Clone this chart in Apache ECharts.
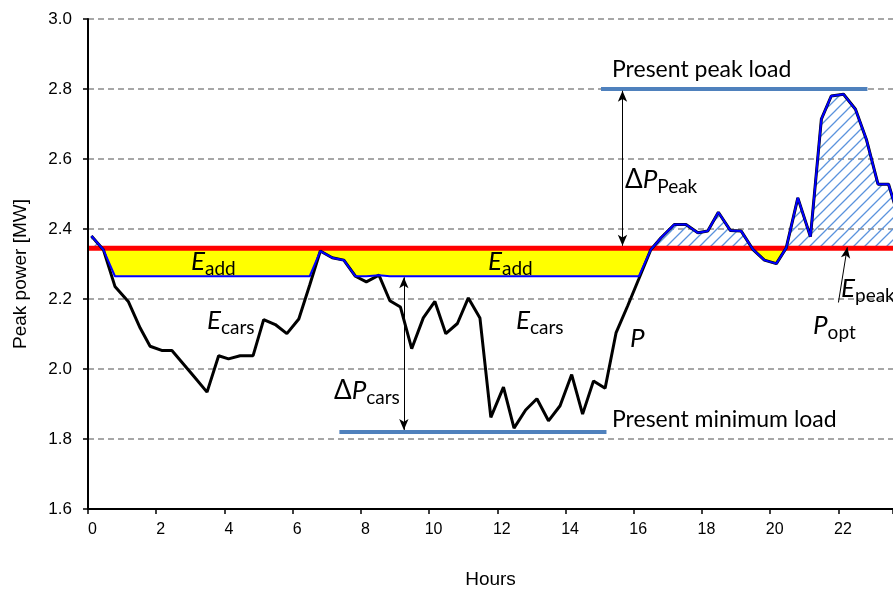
<!DOCTYPE html>
<html><head><meta charset="utf-8">
<script src="https://cdn.jsdelivr.net/npm/echarts@6/dist/echarts.min.js"></script>
<style>html,body{margin:0;padding:0;background:#fff;overflow:hidden}#c{width:893px;height:589px}</style>
</head><body><div id="c"></div>
<script>
// ---- data ----
const hours = [0.10,0.45,0.79,1.18,1.53,1.82,2.16,2.46,2.79,3.12,3.49,3.83,4.12,4.46,4.84,5.15,5.49,5.83,6.18,6.50,
  6.81,7.16,7.50,7.84,8.16,8.53,8.85,9.16,9.49,9.83,10.17,10.49,10.83,11.15,11.49,11.81,12.18,12.49,12.83,13.16,
  13.50,13.84,14.18,14.50,14.82,15.16,15.48,15.82,16.15,16.50,16.80,17.19,17.53,17.88,18.17,18.48,18.83,19.15,19.49,19.83,
  20.18,20.47,20.81,21.18,21.50,21.79,22.15,22.50,22.82,23.16,23.47,23.80];
const power = [2.380,2.341,2.236,2.193,2.117,2.065,2.053,2.053,2.015,1.977,1.934,2.038,2.029,2.038,2.038,2.141,2.127,2.101,2.143,2.240,
  2.337,2.318,2.311,2.265,2.249,2.268,2.195,2.177,2.058,2.146,2.193,2.101,2.130,2.203,2.146,1.862,1.948,1.831,1.883,1.915,
  1.852,1.895,1.984,1.871,1.966,1.945,2.103,2.180,2.258,2.341,2.375,2.413,2.413,2.389,2.394,2.448,2.396,2.394,2.342,2.311,
  2.301,2.346,2.489,2.378,2.714,2.780,2.785,2.742,2.656,2.528,2.528,2.420];
const optimalLevel = 2.345;      // P_opt (red)
const carFloor = 2.265;          // level after adding car charging (blue)
const peakLoadLevel = 2.8;
const peakLoadSpan = [15.04, 22.85];
const minLoadLevel = 1.82;
const minLoadSpan = [7.37, 15.2];
const deltaCarsArrow = [9.26, 2.262, 1.826];
const deltaPeakArrow = [15.67, 2.795, 2.352];
const poptArrow = [[22.0, 2.19], [22.26, 2.348]];
const xTickValues = [0,2,4,6,8,10,12,14,16,18,20,22];
const yTickLabels = ['1.6','1.8','2.0','2.2','2.4','2.6','2.8','3.0'];

// ---- derived tables ----
const pLine = hours.map((h,i)=>[h, power[i]]);
const blueVals = power.map(v => Math.max(v, carFloor));
const blueLine = hours.map((h,i)=>[h, blueVals[i]]);
const optVals = hours.map(() => optimalLevel);
const yellowLower = blueVals.map(v => Math.min(v, optimalLevel));
const hatchUpper = power.map(v => Math.max(v, optimalLevel));
const redLine = [[0.03, optimalLevel],[24, optimalLevel]];

// hatch pattern
const pat = document.createElement('canvas');
pat.width = 11; pat.height = 11;
const g = pat.getContext('2d');
g.strokeStyle = '#5b93dd'; g.lineWidth = 1.3;
g.beginPath();
g.moveTo(0,11); g.lineTo(11,0);
g.moveTo(-1,1); g.lineTo(1,-1);
g.moveTo(10,12); g.lineTo(12,10);
g.stroke();

function band(lower, upper, fill) {
  return function (params, api) {
    const pts = [];
    for (let i = 0; i < hours.length; i++) pts.push(api.coord([hours[i], upper[i]]));
    for (let i = hours.length - 1; i >= 0; i--) pts.push(api.coord([hours[i], lower[i]]));
    return {type: 'polygon', shape: {points: pts}, style: {fill: fill, stroke: null}};
  };
}

const F = 'Lato, "Noto Sans", sans-serif';
const A = '"Liberation Sans", Arial, sans-serif';
const rich = {
  i: {fontFamily: F, fontStyle: 'italic', fontSize: 26, fill: '#000'},
  n: {fontFamily: F, fontSize: 26, fill: '#000'},
  s: {fontFamily: F, fontSize: 19, fill: '#000', padding: [14,0,0,0]}
};
function txt(x, y, text) {
  return {type: 'text', x: x, y: y, z: 100,
    style: {text: text, rich: rich, align: 'left', verticalAlign: 'middle', fill: '#000', fontFamily: F, fontSize: 23}};
}

const chart = echarts.init(document.getElementById('c'), null, {renderer: 'canvas'});
chart.setOption({
  animation: false,
  backgroundColor: '#fff',
  grid: {left: 88, right: 0, top: 19, bottom: 80, containLabel: false, outerBoundsMode: 'none'},
  xAxis: {
    type: 'value', min: 0, max: 23.6, interval: 2,
    name: 'Hours', nameLocation: 'middle', nameGap: 61,
    nameTextStyle: {fontFamily: A, fontSize: 19, color: '#000'},
    axisLine: {lineStyle: {color: '#000', width: 2}},
    axisTick: {show: true, length: 5, lineStyle: {color: '#000', width: 1.5}},
    axisLabel: {fontFamily: A, fontSize: 16, color: '#000', margin: 13, padding: [0,0,0,9],
      formatter: v => xTickValues.indexOf(v) >= 0 ? String(v) : ''},
    splitLine: {show: false}
  },
  yAxis: {
    type: 'value', min: 1.6, max: 3.0, interval: 0.2,
    axisLine: {show: true, lineStyle: {color: '#000', width: 2}},
    axisTick: {show: true, length: 5, lineStyle: {color: '#000', width: 1.5}},
    axisLabel: {fontFamily: A, fontSize: 17, color: '#000', margin: 16,
      formatter: v => yTickLabels[Math.round((v - 1.6) / 0.2)]},
    splitLine: {show: true, lineStyle: {color: '#8a8a8a', width: 1.5, type: [6,4]}}
  },
  series: [
    {type: 'custom', renderItem: band(yellowLower, optVals, '#ffff00'), data: [[hours[0], optimalLevel]], clip: true, z: 1, silent: true},
    {type: 'custom', renderItem: band(optVals, hatchUpper, {image: pat, repeat: 'repeat'}), data: [[hours[0], optimalLevel]], clip: true, z: 1, silent: true},
    {type: 'line', data: redLine, symbol: 'none', lineStyle: {color: '#ff0000', width: 5}, z: 2},
    {type: 'line', data: [[peakLoadSpan[0], peakLoadLevel],[peakLoadSpan[1], peakLoadLevel]], symbol: 'none',
      lineStyle: {color: '#4f81bd', width: 4}, z: 2},
    {type: 'line', data: [[minLoadSpan[0], minLoadLevel],[minLoadSpan[1], minLoadLevel]], symbol: 'none',
      lineStyle: {color: '#4f81bd', width: 4}, z: 2,
      markLine: {
        silent: true, symbol: ['arrow','arrow'], symbolSize: [7, 11], label: {show: false},
        lineStyle: {color: '#000', width: 1, type: 'solid'},
        data: [
          [{coord: [deltaCarsArrow[0], deltaCarsArrow[1]]}, {coord: [deltaCarsArrow[0], deltaCarsArrow[2]]}],
          [{coord: [deltaPeakArrow[0], deltaPeakArrow[1]]}, {coord: [deltaPeakArrow[0], deltaPeakArrow[2]]}],
          [{coord: poptArrow[0], symbol: 'none'}, {coord: poptArrow[1], symbol: 'arrow'}]
        ]
      }},
    {type: 'line', data: pLine, symbol: 'none', lineStyle: {color: '#000', width: 3}, z: 3},
    {type: 'line', data: blueLine, symbol: 'none', lineStyle: {color: '#0000ff', width: 2}, z: 4}
  ],
  graphic: [
    {type: 'text', x: 21, y: 274, rotation: Math.PI / 2, style: {text: 'Peak power [MW]', align: 'center', verticalAlign: 'middle', fontFamily: A, fontSize: 19, fill: '#000'}},
    txt(191, 262, '{i|E}{s|add}'),
    txt(488, 262, '{i|E}{s|add}'),
    txt(207, 321, '{i|E}{s|cars}'),
    txt(516, 321, '{i|E}{s|cars}'),
    txt(630, 339, '{i|P}'),
    txt(612, 70, 'Present peak load'),
    txt(612, 420, 'Present minimum load'),
    txt(625, 180, '{n|\u0394}{i|P}{s|Peak}'),
    txt(334, 391, '{n|\u0394}{i|P}{s|cars}'),
    txt(841, 289, '{i|E}{s|peak}'),
    txt(813, 326, '{i|P}{s|opt}')
  ]
});
</script></body></html>
